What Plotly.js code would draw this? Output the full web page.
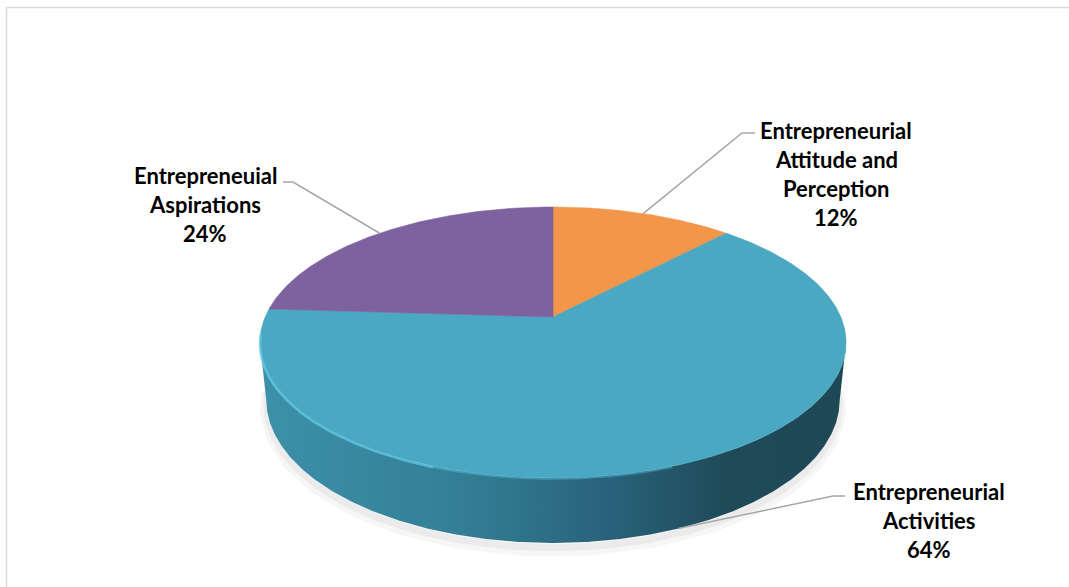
<!DOCTYPE html>
<html>
<head>
<meta charset="utf-8">
<script src="https://cdn.plot.ly/plotly-3.0.1.min.js"></script>
<style>html,body{margin:0;padding:0;background:#fff;}#chart{width:1069px;height:587px;}</style>
</head>
<body>
<div id="chart"></div>
<script>
// ---- data ----
const categories = ['Entrepreneurial Attitude and Perception', 'Entrepreneurial Activities', 'Entrepreneuial Aspirations'];
const labelLines = [['Entrepreneurial', 'Attitude and', 'Perception'], ['Entrepreneurial', 'Activities'], ['Entrepreneuial', 'Aspirations']];
const shares = [12, 64, 24];
const sliceColors = ['#F2964A', '#4AA8C2', '#7E62A0'];

// ---- 3D view (layout geometry, pixel space) ----
const CX = 553, CY = 317, FOC = 1363, DIST = 4.735, ELEV = 27 * Math.PI / 180, THICK = 0.2247;
const sE = Math.sin(ELEV), cE = Math.cos(ELEV);
function proj(deg, z) {
  const t = deg * Math.PI / 180;
  const X = Math.sin(t), Y = Math.cos(t);
  const v = Y * sE + z * cE;
  const d = DIST + Y * cE - z * sE;
  return [CX + FOC * X / d, CY - FOC * v / d];
}
function arc(a0, a1, z) {
  const xs = [], ys = [];
  const n = Math.max(2, Math.ceil(Math.abs(a1 - a0) / 0.5));
  for (let i = 0; i <= n; i++) {
    const p = proj(a0 + (a1 - a0) * i / n, z);
    xs.push(p[0]); ys.push(p[1]);
  }
  return [xs, ys];
}

const total = shares.reduce((a, b) => a + b, 0);
const starts = [], ends = [];
let acc = 0;
shares.forEach(v => { starts.push(acc / total * 360); acc += v; ends.push(acc / total * 360); });
const mids = starts.map((s, i) => (s + ends[i]) / 2);

const traces = [];
const tanDeg = Math.acos(-cE / DIST) * 180 / Math.PI;

// soft shadow under the disc
{
  const [sx, sy] = arc(tanDeg - 6, 360 - tanDeg + 6, -THICK - 0.01);
  traces.push({x: sx, y: sy.map(v => v + 4), mode: 'lines', line: {color: 'rgba(0,0,0,0.035)', width: 14}, hoverinfo: 'skip'});
  traces.push({x: sx, y: sy.map(v => v + 2), mode: 'lines', line: {color: 'rgba(0,0,0,0.045)', width: 7}, hoverinfo: 'skip'});
}

// side wall (front half)
{
  const [tx, ty] = arc(tanDeg, 360 - tanDeg, 0);
  const [bx, by] = arc(360 - tanDeg, tanDeg, -THICK);
  traces.push({
    x: tx.concat(bx), y: ty.concat(by), mode: 'lines', fill: 'toself',
    line: {width: 0, color: 'rgba(0,0,0,0)'},
    fillgradient: {type: 'horizontal', colorscale: [[0, '#3C91A9'], [0.35, '#337E95'], [0.6, '#28627A'], [0.8, '#1F4A58'], [1, '#1F4855']]},
    hoverinfo: 'skip'
  });
}

// top face slices
shares.forEach((v, i) => {
  const [ax, ay] = arc(starts[i], ends[i], 0);
  traces.push({
    x: [CX].concat(ax, [CX]), y: [CY].concat(ay, [CY]),
    mode: 'lines', fill: 'toself', fillcolor: sliceColors[i],
    line: {width: 0.6, color: sliceColors[i]}, name: categories[i], hoverinfo: 'name'
  });
});

// rim highlight on the front edge
{
  const [hx, hy] = arc(200, 263, 0);
  traces.push({x: hx, y: hy.map(v => v + 1), mode: 'lines', line: {color: 'rgba(100,205,235,0.7)', width: 2.5}, hoverinfo: 'skip'});
  const [hx2, hy2] = arc(160, 200, 0);
  traces.push({x: hx2, y: hy2.map(v => v + 1), mode: 'lines', line: {color: 'rgba(90,190,220,0.4)', width: 2}, hoverinfo: 'skip'});
}

// ---- labels & leader lines ----
const labelCenter = [[836, 130], [929, 491], [205, 175]];
const lineGap = 29;
const elbows = [[[755, 133], [742, 133]], [[845, 496], [833, 496]], [[283, 182], [293, 182]]];
const anchorZ = [0, -THICK, 0];

const annotations = [];
const shapes = [];
labelLines.forEach((lines, i) => {
  const all = lines.concat([shares[i] + '%']);
  all.forEach((txt, j) => {
    annotations.push({
      x: labelCenter[i][0], y: labelCenter[i][1] + j * lineGap, xref: 'x', yref: 'y',
      text: txt, showarrow: false, xanchor: 'center', yanchor: 'middle',
      font: {family: 'Lato, "Open Sans", sans-serif', size: 22, color: '#000000', weight: 700}
    });
  });
  const a = proj(mids[i], anchorZ[i]);
  const e = elbows[i];
  shapes.push({
    type: 'path', xref: 'x', yref: 'y',
    path: `M${e[0][0]},${e[0][1]} L${e[1][0]},${e[1][1]} L${a[0]},${a[1]}`,
    line: {color: '#A6A6A6', width: 1.5}
  });
});

// chart frame (only top and left edges visible)
shapes.push({type: 'line', xref: 'x', yref: 'y', x0: 6.5, y0: 7.5, x1: 1069, y1: 7.5, line: {color: '#D9D9D9', width: 1.5}});
shapes.push({type: 'line', xref: 'x', yref: 'y', x0: 6.5, y0: 7.5, x1: 6.5, y1: 587, line: {color: '#D9D9D9', width: 1.5}});

const layout = {
  width: 1069, height: 587,
  margin: {l: 0, r: 0, t: 0, b: 0},
  paper_bgcolor: '#FFFFFF', plot_bgcolor: '#FFFFFF',
  showlegend: false,
  xaxis: {range: [0, 1069], visible: false, fixedrange: true},
  yaxis: {range: [587, 0], visible: false, fixedrange: true},
  annotations: annotations,
  shapes: shapes
};

Plotly.newPlot('chart', traces, layout, {displayModeBar: false, staticPlot: true});
</script>
</body>
</html>
